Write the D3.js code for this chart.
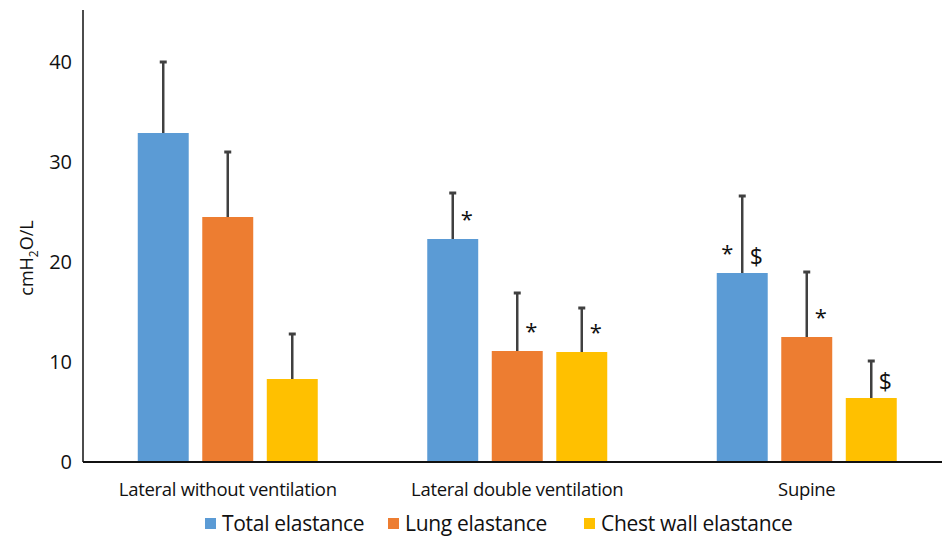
<!DOCTYPE html>
<html>
<head>
<meta charset="utf-8">
<script src="https://cdn.jsdelivr.net/npm/d3@7"></script>
<style>
  body { margin: 0; background: #fff; }
  svg { display: block; }
</style>
</head>
<body>
<div id="chart"></div>
<script>
const categories = ['Lateral without ventilation', 'Lateral double ventilation', 'Supine'];
const seriesNames = ['Total elastance', 'Lung elastance', 'Chest wall elastance'];
const totalValues = [32.9, 22.3, 18.9];
const totalErrors = [7.1, 4.6, 7.7];
const lungValues = [24.5, 11.1, 12.5];
const lungErrors = [6.5, 5.8, 6.5];
const chestValues = [8.3, 11.0, 6.4];
const chestErrors = [4.5, 4.4, 3.7];
const yTicks = [0, 10, 20, 30, 40];
// significance marks: group index, series index, symbol, side of the error bar
const marks = [
  { group: 1, series: 0, text: '*', side: 'right' },
  { group: 1, series: 1, text: '*', side: 'right' },
  { group: 1, series: 2, text: '*', side: 'right' },
  { group: 2, series: 0, text: '*', side: 'left' },
  { group: 2, series: 0, text: '$', side: 'right' },
  { group: 2, series: 1, text: '*', side: 'right' },
  { group: 2, series: 2, text: '$', side: 'right' }
];

const colors = ['#5B9BD5', '#ED7D31', '#FFC000'];
const values = [totalValues, lungValues, chestValues];
const errors = [totalErrors, lungErrors, chestErrors];

const width = 942, height = 536;
const margin = { top: 10, left: 83, bottom: 74 };
const plotBottom = height - margin.bottom; // 462
const fontMain = '"Open Sans", "Noto Sans", sans-serif';

const svg = d3.select('#chart').append('svg')
  .attr('width', width)
  .attr('height', height);

const x0 = d3.scaleBand()
  .domain(d3.range(categories.length))
  .range([margin.left, margin.left + 868.5]);

const x1 = d3.scaleBand()
  .domain(d3.range(seriesNames.length))
  .range([0, 180])
  .paddingInner(0.21);

const groupOffset = (x0.bandwidth() - 180) / 2;

const y = d3.scaleLinear().domain([0, 45]).range([plotBottom, plotBottom - 450]);

// bars
const data = [];
categories.forEach(function(c, g) {
  seriesNames.forEach(function(s, i) {
    data.push({ group: g, series: i, value: values[i][g], err: errors[i][g] });
  });
});

const barX = function(d) { return x0(d.group) + groupOffset + x1(d.series); };

svg.append('g').selectAll('rect')
  .data(data)
  .enter().append('rect')
  .attr('x', barX)
  .attr('y', function(d) { return y(d.value); })
  .attr('width', x1.bandwidth())
  .attr('height', function(d) { return y(0) - y(d.value); })
  .attr('fill', function(d) { return colors[d.series]; });

// error bars (upper only)
const errG = svg.append('g').attr('stroke', '#404040');
errG.selectAll('line.stem')
  .data(data)
  .enter().append('line')
  .attr('class', 'stem')
  .attr('x1', function(d) { return barX(d) + x1.bandwidth() / 2; })
  .attr('x2', function(d) { return barX(d) + x1.bandwidth() / 2; })
  .attr('y1', function(d) { return y(d.value); })
  .attr('y2', function(d) { return y(d.value + d.err); })
  .attr('stroke-width', 2.5);
errG.selectAll('line.cap')
  .data(data)
  .enter().append('line')
  .attr('class', 'cap')
  .attr('x1', function(d) { return barX(d) + x1.bandwidth() / 2 - 3.5; })
  .attr('x2', function(d) { return barX(d) + x1.bandwidth() / 2 + 3.5; })
  .attr('y1', function(d) { return y(d.value + d.err); })
  .attr('y2', function(d) { return y(d.value + d.err); })
  .attr('stroke-width', 3);

// significance marks
svg.append('g').selectAll('text')
  .data(marks)
  .enter().append('text')
  .attr('x', function(d) {
    const cx = x0(d.group) + groupOffset + x1(d.series) + x1.bandwidth() / 2;
    return d.side === 'right' ? cx + 14 : cx - 15;
  })
  .attr('y', function(d) {
    const top = y(values[d.series][d.group]);
    return d.text === '*' ? top - 12 : top - 8;
  })
  .attr('text-anchor', 'middle')
  .style('font-family', fontMain)
  .style('font-size', function(d) { return d.text === '*' ? '22px' : '23px'; })
  .style('fill', '#111')
  .text(function(d) { return d.text; });

// axes
svg.append('line')
  .attr('x1', margin.left).attr('x2', margin.left)
  .attr('y1', margin.top).attr('y2', plotBottom)
  .attr('stroke', '#111').attr('stroke-width', 1.5);
svg.append('line')
  .attr('x1', margin.left).attr('x2', width)
  .attr('y1', plotBottom).attr('y2', plotBottom)
  .attr('stroke', '#111').attr('stroke-width', 2);

svg.append('g').selectAll('text')
  .data(yTicks)
  .enter().append('text')
  .attr('x', 72)
  .attr('y', function(d) { return y(d); })
  .attr('dy', '0.35em')
  .attr('text-anchor', 'end')
  .style('font-family', fontMain)
  .style('font-size', '20px')
  .style('fill', '#111')
  .text(function(d) { return d; });

// category labels
svg.append('g').selectAll('text')
  .data(categories)
  .enter().append('text')
  .attr('x', function(d, i) { return x0(i) + x0.bandwidth() / 2; })
  .attr('y', 496)
  .attr('text-anchor', 'middle')
  .style('font-family', fontMain)
  .style('font-size', '18.5px')
  .style('letter-spacing', '-0.3px')
  .style('fill', '#111')
  .text(function(d) { return d; });

// y axis title
const yTitle = svg.append('text')
  .attr('transform', 'translate(33,' + 258 + ') rotate(-90)')
  .attr('text-anchor', 'middle')
  .style('font-family', fontMain)
  .style('font-size', '18px')
  .style('fill', '#111');
yTitle.append('tspan').text('cmH');
yTitle.append('tspan').attr('dy', 5).style('font-size', '12px').text('2');
yTitle.append('tspan').attr('dy', -5).text('O/L');

// legend
const legendX = [205, 388, 584];
const legend = svg.append('g').selectAll('g')
  .data(seriesNames)
  .enter().append('g')
  .attr('transform', function(d, i) { return 'translate(' + legendX[i] + ',' + 524 + ')'; });
legend.append('rect')
  .attr('x', 0).attr('y', -6)
  .attr('width', 11).attr('height', 11)
  .attr('fill', function(d, i) { return colors[i]; });
legend.append('text')
  .attr('x', 17).attr('y', 0)
  .attr('dy', '0.35em')
  .style('font-family', fontMain)
  .style('font-size', '21px')
  .style('letter-spacing', '-0.3px')
  .style('fill', '#111')
  .text(function(d) { return d; });
</script>
</body>
</html>
